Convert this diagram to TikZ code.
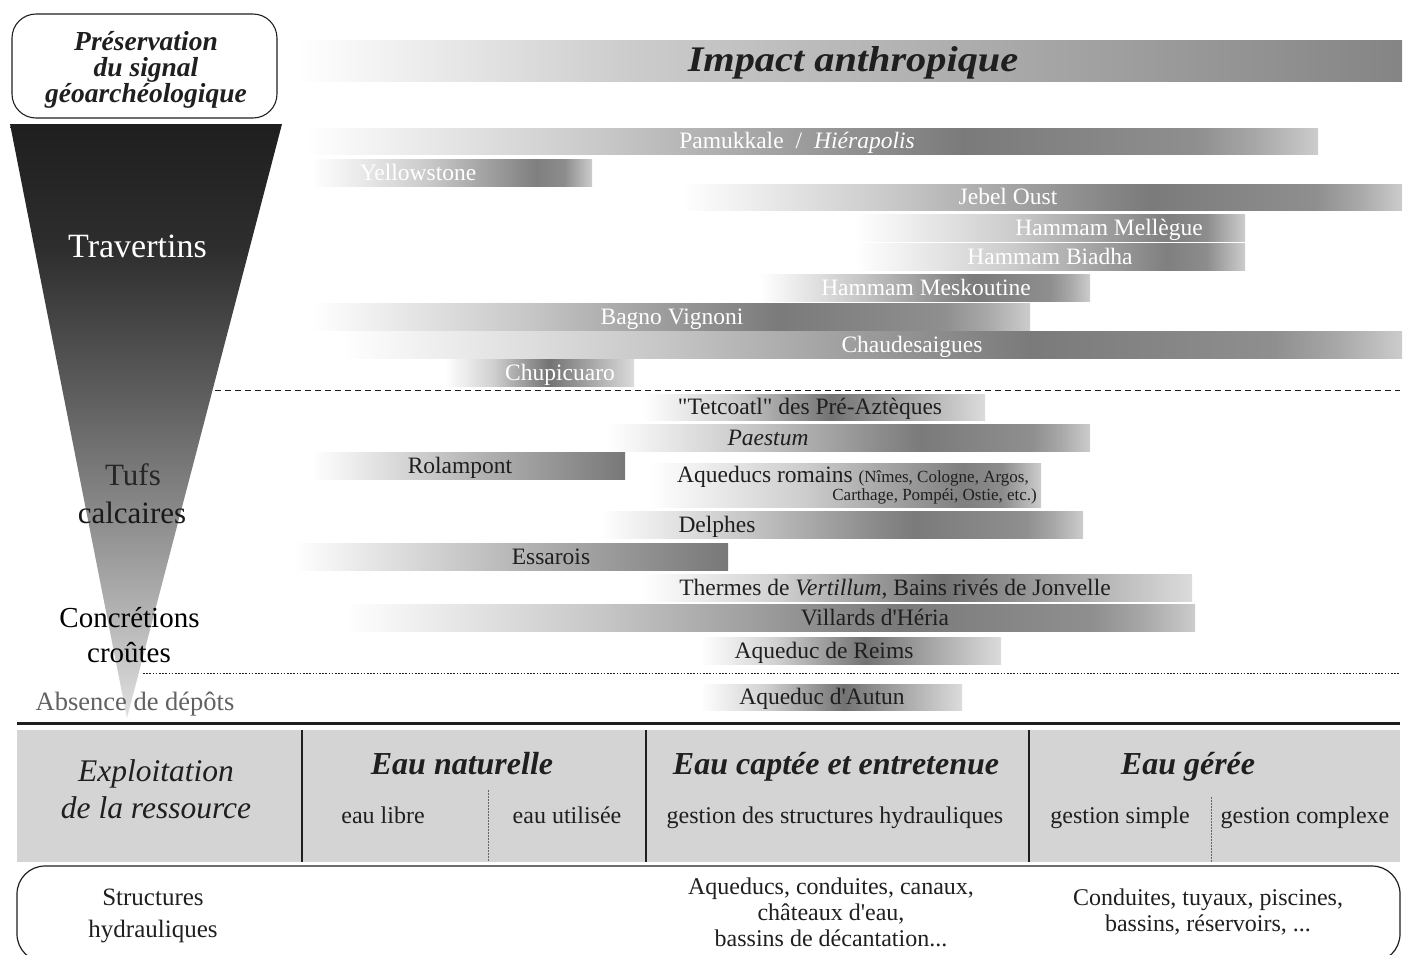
\documentclass[tikz,border=0pt]{standalone}
\usepackage{fontspec}
\setmainfont{Liberation Serif}
\newcommand\qdbl{\XeTeXglyph\XeTeXcharglyph"22\relax}
\newcommand\qsgl{\XeTeXglyph\XeTeXcharglyph"27\relax}
\definecolor{tabgray}{rgb}{0.83,0.83,0.83}
\definecolor{dtext}{rgb}{0.12,0.12,0.12}
\definecolor{absgray}{rgb}{0.38,0.38,0.38}
\pgfdeclarehorizontalshading{shA}{100bp}{rgb(0bp)=(1,1,1); rgb(25bp)=(1,1,1); rgb(40bp)=(.78,.78,.78); rgb(52.5bp)=(.56,.56,.56); rgb(57.5bp)=(.48,.48,.48); rgb(69bp)=(.56,.56,.56); rgb(72bp)=(.66,.66,.66); rgb(75bp)=(.8,.8,.8); rgb(100bp)=(.8,.8,.8)}
\pgfdeclarehorizontalshading{shB}{100bp}{rgb(0bp)=(1,1,1); rgb(25bp)=(1,1,1); rgb(45bp)=(.8,.8,.8); rgb(65bp)=(.5,.5,.5); rgb(70bp)=(.55,.55,.55); rgb(75bp)=(.8,.8,.8); rgb(100bp)=(.8,.8,.8)}
\pgfdeclarehorizontalshading{shC}{100bp}{rgb(0bp)=(1,1,1); rgb(25bp)=(1,1,1); rgb(50bp)=(.72,.72,.72); rgb(75bp)=(.47,.47,.47); rgb(100bp)=(.47,.47,.47)}
\pgfdeclarehorizontalshading{shD}{100bp}{rgb(0bp)=(1,1,1); rgb(25bp)=(1,1,1); rgb(37.5bp)=(.82,.82,.82); rgb(52.5bp)=(.45,.45,.45); rgb(65bp)=(.68,.68,.68); rgb(75bp)=(.86,.86,.86); rgb(100bp)=(.86,.86,.86)}
\pgfdeclarehorizontalshading{shImp}{100bp}{rgb(0bp)=(1,1,1); rgb(25bp)=(1,1,1); rgb(40bp)=(.8,.8,.8); rgb(55bp)=(.68,.68,.68); rgb(75bp)=(.52,.52,.52); rgb(100bp)=(.52,.52,.52)}
\pgfdeclareverticalshading{funnel}{100bp}{rgb(0bp)=(.88,.88,.88); rgb(25bp)=(.88,.88,.88); rgb(35bp)=(.68,.68,.68); rgb(43.4bp)=(.52,.52,.52); rgb(52.6bp)=(.36,.36,.36); rgb(64.4bp)=(.18,.18,.18); rgb(75bp)=(.12,.12,.12); rgb(100bp)=(.12,.12,.12)}
\begin{document}
\begin{tikzpicture}[x=1pt,y=-1pt,
  lbl/.style={anchor=base,inner sep=0pt,font=\fontsize{23.5}{26}\selectfont},
  wl/.style={lbl,text=white},
  dl/.style={lbl,text=dtext},
  cell/.style={anchor=base,inner sep=0pt,font=\fontsize{24}{28}\selectfont,text=dtext},
  head/.style={anchor=base,inner sep=0pt,font=\fontsize{32}{36}\selectfont\bfseries\itshape,text=dtext},
  expl/.style={anchor=base,inner sep=0pt,font=\fontsize{31.5}{36}\selectfont\itshape,text=dtext},
  pres/.style={anchor=base,inner sep=0pt,font=\fontsize{27.5}{30}\selectfont\bfseries\itshape,text=dtext},
  side/.style={anchor=base,inner sep=0pt,text=black},
  struct/.style={anchor=base,inner sep=0pt,font=\fontsize{24}{28}\selectfont,text=dtext},
  barshade/.style={shading=#1}]
\useasboundingbox (0,0) rectangle (1408,954);
\clip (0,0) rectangle (1408,954);

% top-left box
\node[draw=dtext, line width=1.1pt, rounded corners=24pt, minimum width=265pt, minimum height=104pt, inner sep=0pt] (presbox) at (144.5,66) {};
\node[pres] (pres1) at (146,50) {Préservation};
\node[pres] (pres2) at (146,76) {du signal};
\node[pres] (pres3) at (146,102) {géoarchéologique};

% impact bar
\shade[barshade=shImp] (297,40) rectangle (1402,81);
\node[anchor=base,inner sep=0pt,text=dtext,font=\fontsize{36}{40}\selectfont\bfseries\itshape] (impact) at (853,71) {\scalebox{1.12}[1]{Impact anthropique}};

% funnel
\shade[shading=funnel] (10,124) -- (282,124) -- (127,718) -- cycle;
\node[side,text=white,font=\fontsize{34}{38}\selectfont] (trav) at (137.5,257) {Travertins};
\node[side,text=black!85,font=\fontsize{31}{36}\selectfont] (tufs) at (133,485) {Tufs};
\node[side,text=black!90,font=\fontsize{31}{36}\selectfont] (calc) at (132,523) {calcaires};
\node[side,font=\fontsize{29}{34}\selectfont] (concr) at (129.5,627) {Concrétions};
\node[side,font=\fontsize{29}{34}\selectfont] (crout) at (129,662) {croûtes};
\node[side,text=absgray,font=\fontsize{26.5}{30}\selectfont] (abs) at (135,710) {Absence de dépôts};

% separators
\draw[dtext, line width=1pt, dash pattern=on 6pt off 4pt] (215,390) -- (1400,390);
\draw[dtext, line width=0.9pt, dash pattern=on 1.6pt off 1.6pt] (143,673) -- (1400,673);

% travertine bars
\shade[barshade=shA] (305,128) rectangle (1318,154);
\node[wl] (pam) at (797,148) {Pamukkale\hspace{12pt}/\hspace{12pt}\textit{Hiérapolis}};
\shade[barshade=shB] (312,159) rectangle (592,186);
\node[wl] (yel) at (418,180) {Yellowstone};
\shade[barshade=shA] (682,184) rectangle (1402,210);
\node[wl] (jeb) at (1008,204) {Jebel Oust};
\shade[barshade=shB] (855,214) rectangle (1245,241);
\node[wl] (mel) at (1109,235) {Hammam Mellègue};
\shade[barshade=shB] (855,243) rectangle (1245,270);
\node[wl] (bia) at (1050,264) {Hammam Biadha};
\shade[barshade=shA] (760,274) rectangle (1090,301);
\node[wl] (mes) at (926,295) {Hammam Meskoutine};
\shade[barshade=shA] (312,303) rectangle (1030,330);
\node[wl] (bag) at (672,324) {Bagno Vignoni};
\shade[barshade=shA] (340,331) rectangle (1402,358);
\node[wl] (cha) at (912,352) {Chaudesaigues};
\shade[barshade=shD] (445,359) rectangle (634,386);
\node[wl] (chu) at (560,380) {Chupicuaro};

% tufs bars
\shade[barshade=shD] (643,394) rectangle (985,420);
\node[dl] (tet) at (810,414) {\qdbl Tetcoatl\qdbl{} des Pré-Aztèques};
\shade[barshade=shA] (607,424) rectangle (1090,451);
\node[dl] (pae) at (768,445) {\textit{Paestum}};
\shade[barshade=shC] (312,452) rectangle (625,479);
\node[dl] (rol) at (460,473) {Rolampont};
\shade[barshade=shB] (650,463) rectangle (1041,507);
\node[dl, anchor=base west] (aqr) at (677,482) {Aqueducs romains {\fontsize{17}{20}\selectfont(Nîmes, Cologne, Argos,}};
\node[dl, anchor=base east, font=\fontsize{17}{20}\selectfont] (aqr2) at (1037,500) {Carthage, Pompéi, Ostie, etc.)};
\shade[barshade=shA] (600,511) rectangle (1083,538);
\node[dl] (del) at (717,532) {Delphes};
\shade[barshade=shC] (293,543) rectangle (728,570);
\node[dl] (ess) at (551,564) {Essarois};
\shade[barshade=shD] (640,574) rectangle (1192,601);
\node[dl] (the) at (895,595) {Thermes de \textit{Vertillum}, Bains rivés de Jonvelle};
\shade[barshade=shA] (345,604) rectangle (1195,631);
\node[dl] (vil) at (875,625) {Villards d\qsgl Héria};
\shade[barshade=shD] (700,637) rectangle (1001,664);
\node[dl] (rei) at (824,658) {Aqueduc de Reims};
\shade[barshade=shD] (700,684) rectangle (962,710);
\node[dl] (aut) at (822,704) {Aqueduc d\qsgl Autun};

% table
\draw[dtext, line width=3pt] (17,723) -- (1400,723);
\fill[tabgray] (17,730) rectangle (1400,862);
\draw[dtext, line width=1.3pt] (302,730) -- (302,862);
\draw[dtext, line width=1.3pt] (646,730) -- (646,862);
\draw[dtext, line width=1.3pt] (1029,730) -- (1029,862);
\draw[black!60, line width=1pt, dash pattern=on 1.5pt off 1.5pt] (488,790) -- (488,862);
\draw[black!60, line width=1pt, dash pattern=on 1.5pt off 1.5pt] (1211,797) -- (1211,862);

\node[expl] (expl1) at (156,781) {Exploitation};
\node[expl] (expl2) at (156,818) {de la ressource};
\node[head] (h1) at (462,774) {Eau naturelle};
\node[head] (h2) at (836,774) {Eau captée et entretenue};
\node[head] (h3) at (1188,774) {Eau gérée};
\node[cell] (c1) at (383,823) {eau libre};
\node[cell] (c2) at (567,823) {eau utilisée};
\node[cell] (c3) at (835,823) {gestion des structures hydrauliques};
\node[cell] (c4) at (1120,823) {gestion simple};
\node[cell] (c5) at (1305,823) {gestion complexe};

% bottom box
\draw[dtext, line width=1.2pt, rounded corners=28pt] (17,866) rectangle (1400,962);
\node[struct,font=\fontsize{25}{28}\selectfont] (st1) at (153,905) {Structures};
\node[struct,font=\fontsize{25}{28}\selectfont] (st2) at (153,937) {hydrauliques};
\node[struct] (aq1) at (831,894) {Aqueducs, conduites, canaux,};
\node[struct] (aq2) at (831,920) {châteaux d\qsgl eau,};
\node[struct] (aq3) at (831,946) {bassins de décantation...};
\node[struct] (co1) at (1208,905) {Conduites, tuyaux, piscines,};
\node[struct] (co2) at (1208,931) {bassins, réservoirs, ...};
\end{tikzpicture}
\end{document}
